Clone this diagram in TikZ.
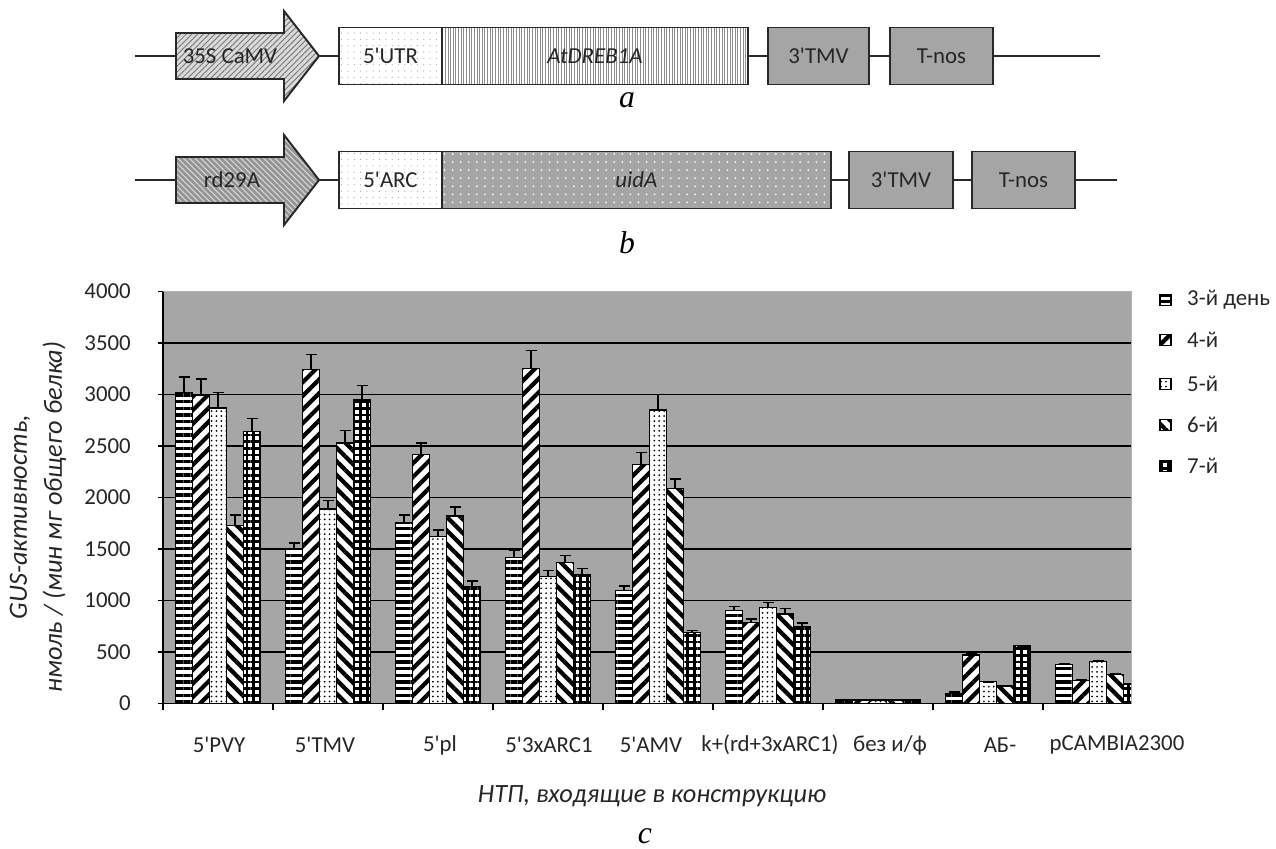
\documentclass[tikz,border=0pt]{standalone}
\usepackage{fontspec}
\setmainfont{Carlito}[Ligatures=TeXOff]
\newfontfamily\letterfont{Liberation Serif}
\usetikzlibrary{patterns.meta}

\definecolor{plotgray}{RGB}{166,166,166}
\definecolor{boxgray}{RGB}{165,165,165}
\definecolor{promgray}{RGB}{218,218,218}
\definecolor{inkgray}{RGB}{40,40,40}

\tikzset{
  txt/.style={font=\fontsize{13}{15}\selectfont, text=black!85},
  title/.style={font=\fontsize{15}{17}\selectfont\itshape, text=black!85},
  letter/.style={font=\fontsize{18}{20}\selectfont\letterfont\itshape},
  dna/.style={line width=0.9pt, draw=inkgray},
  gbox/.style={txt, draw=inkgray, line width=0.9pt, inner sep=0pt, outer sep=0pt, minimum height=1.14cm, anchor=west},
  dotbox/.style={gbox, preaction={fill=white}, pattern={Dots[distance=3.6pt,radius=0.35pt]}, pattern color=black!35},
  linebox/.style={gbox, preaction={fill=white}, pattern={Lines[angle=90,distance=1.5pt,line width=0.5pt]}, pattern color=black!45},
  grainbox/.style={gbox, preaction={fill=boxgray}, pattern={Dots[distance=4.6pt,radius=0.55pt]}, pattern color=white},
  termbox/.style={gbox, fill=boxgray},
  promA/.style={draw=inkgray, line width=1.1pt, preaction={fill=promgray}, pattern={Lines[angle=45,distance=2.3pt,line width=0.5pt]}, pattern color=black!55},
  promB/.style={draw=inkgray, line width=1.1pt, preaction={fill=black!42}, pattern={Lines[angle=-45,distance=2.3pt,line width=0.6pt]}, pattern color=black!15},
  grid/.style={line width=0.8pt, black},
  axis/.style={line width=0.8pt, black},
  bar/.style={draw=black, line width=0.7pt},
  errbar/.style={line width=0.8pt, black},
  pat0/.style={preaction={fill=white}, pattern={Lines[angle=0,distance=3.8pt,line width=1.9pt]}},
  pat1/.style={preaction={fill=white}, pattern={Lines[angle=45,distance=5.5pt,line width=2.4pt]}},
  pat2/.style={preaction={fill=white}, pattern={Dots[distance=2.8pt,radius=0.55pt]}},
  pat3/.style={preaction={fill=white}, pattern={Lines[angle=-45,distance=5.5pt,line width=2.4pt]}},
  pat4/.style={preaction={fill=white}, pattern={Hatch[angle=0,distance=3.8pt,line width=1.6pt]}}
}

\begin{document}
\begin{tikzpicture}[x=0.02cm, y=-0.02cm]
\useasboundingbox (0,0) rectangle (1276,849);

% construct a
\coordinate (a0) at (135,56);
\coordinate (a9) at (1100,56);
\coordinate (pAt) at (176,56);
\coordinate (pAh) at (319,56);
\draw[promA, shift={(176,56)}] (0,-23) -- (108,-23) -- (108,-45) -- (143,0) -- (108,45) -- (108,23) -- (0,23) -- cycle;
\node[txt] (pA) at (230,56) {35S CaMV};
\node[dotbox, minimum width=2.06cm] (utrA) at (339,56) {5'UTR};
\node[linebox, minimum width=6.12cm, font=\fontsize{13}{15}\selectfont\itshape] (geneA) at (utrA.east) {AtDREB1A};
\node[termbox, minimum width=2.02cm] (tmvA) at (768,56) {3'TMV};
\node[termbox, minimum width=2.06cm] (nosA) at (890,56) {T-nos};
\draw[dna] (a0) -- (pAt);
\draw[dna] (pAh) -- (utrA.west);
\draw[dna] (geneA.east) -- (tmvA.west);
\draw[dna] (tmvA.east) -- (nosA.west);
\draw[dna] (nosA.east) -- (a9);
\node[letter] (la) at (627,100) {a};

% construct b
\coordinate (b0) at (135,180);
\coordinate (b9) at (1117,180);
\coordinate (pBt) at (176,180);
\coordinate (pBh) at (319,180);
\draw[promB, shift={(176,180)}] (0,-23) -- (108,-23) -- (108,-45) -- (143,0) -- (108,45) -- (108,23) -- (0,23) -- cycle;
\node[txt] (pB) at (232,180) {rd29A};
\node[dotbox, minimum width=2.06cm] (arcB) at (339,180) {5'ARC};
\node[grainbox, minimum width=7.78cm, font=\fontsize{13}{15}\selectfont\itshape] (uidB) at (arcB.east) {uidA};
\node[termbox, minimum width=2.08cm] (tmvB) at (849,180) {3'TMV};
\node[termbox, minimum width=2.06cm] (nosB) at (972,180) {T-nos};
\draw[dna] (b0) -- (pBt);
\draw[dna] (pBh) -- (arcB.west);
\draw[dna] (uidB.east) -- (tmvB.west);
\draw[dna] (tmvB.east) -- (nosB.west);
\draw[dna] (nosB.east) -- (b9);
\node[letter] (lb) at (627,243) {b};

% chart c
\begin{scope}[shift={(163,703.5)}, x=0.02cm, y=0.002058cm]
  \fill[plotgray] (0,0) rectangle (968,4000);
  \draw[black!30] (0,4000) -- (968,4000) -- (968,0);
  \foreach \v in {500,1000,...,3500}
    \draw[grid] (0,\v) -- (968,\v);
  \begin{scope}
    \clip (0,0) rectangle (968,4000);
    \foreach \vals [count=\g from 0] in {
        {3020/3170,2990/3150,2870/3020,1730/1830,2640/2770},
        {1500/1560,3240/3390,1890/1970,2530/2650,2950/3090},
        {1760/1830,2420/2530,1620/1685,1820/1910,1140/1190},
        {1420/1490,3250/3430,1230/1290,1370/1440,1250/1310},
        {1100/1140,2320/2440,2850/3000,2090/2180,690/710},
        {900/940,790/820,930/980,870/920,750/780},
        {35/35,35/35,35/35,35/35,35/35},
        {100/110,470/480,210/210,170/170,560/560},
        {380/390,220/230,410/420,280/290,190/190}}
      \foreach \v/\e [count=\k from 0] in \vals {
        \pgfmathsetmacro\xl{110*\g+12.5+17*\k}
        \draw[bar, pat\k] (\xl,0) rectangle ++(17,\v);
        \draw[errbar] (\xl+8.5,\v) -- (\xl+8.5,\e) (\xl+3,\e) -- (\xl+14,\e);
      }
  \end{scope}
  \draw[axis] (0,4000) -- (0,0) -- (968,0);
  \foreach \v in {0,500,...,4000} {
    \draw[axis] (-5,\v) -- (0,\v);
    \node[txt, anchor=east] (y\v) at (-26,\v) {\v};
  }
  \foreach \i in {0,...,8}
    \draw[axis] (110*\i,0) -- (110*\i,-60);
\end{scope}

\foreach \xx/\lab [count=\i] in {219/5'PVY, 325/5'TMV, 440/5'pl, 549/5'3xARC1, 651/5'AMV,
    770/k+(rd+3xARC1), 890/{без и/ф}, 1000/АБ-, 1117/pCAMBIA2300}
  \node[txt] (cat\i) at (\xx,745) {\lab};

\foreach \yy/\txt [count=\k from 0] in {300/3-й день, 340/4-й, 384/5-й, 425/6-й, 466/7-й} {
  \draw[bar, line width=0.9pt, pat\k] (1160,\yy-5.5) rectangle (1171,\yy+5.5);
  \node[txt, anchor=west] (lg\k) at (1181,\yy) {\txt};
}

\node[title, rotate=90, align=center] (ytitle) at (38,517)
  {GUS-активность,\\[3pt]нмоль / (мин мг общего белка)};
\node[title] (xtitle) at (652,796) {НТП, входящие в конструкцию};
\node[letter] (lc) at (645,836) {c};
\end{tikzpicture}
\end{document}
